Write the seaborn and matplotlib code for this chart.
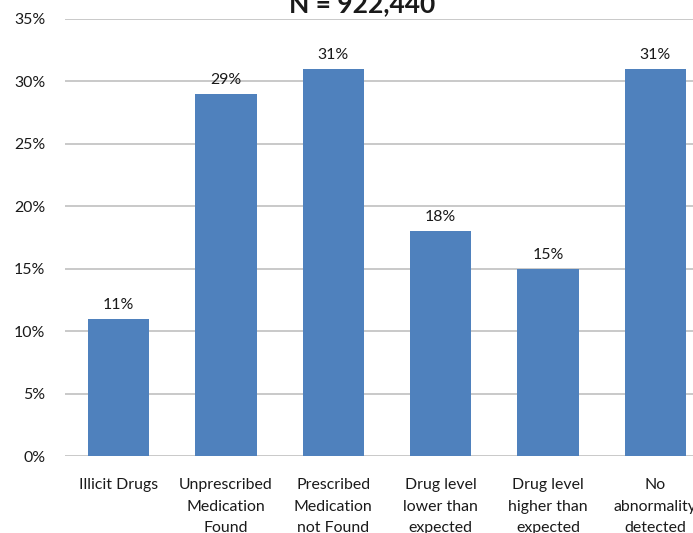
import matplotlib
matplotlib.use("Agg")
import matplotlib.pyplot as plt
import seaborn as sns
import pandas as pd

categories = [
    "Illicit Drugs",
    "Unprescribed\nMedication\nFound",
    "Prescribed\nMedication\nnot Found",
    "Drug level\nlower than\nexpected",
    "Drug level\nhigher than\nexpected",
    "No\nabnormality\ndetected",
]
percentages = [11, 29, 31, 18, 15, 31]
y_ticks = [0, 5, 10, 15, 20, 25, 30, 35]
title = "N = 922,440"

sns.set_theme(style="white")
plt.rcParams["font.family"] = ["Lato", "DejaVu Sans"]

W, H = 693, 533
fig = plt.figure(figsize=(W / 100, H / 100), dpi=100)
ax = fig.add_axes([65 / W, (H - 456) / H, (709 - 65) / W, 437 / H])

df = pd.DataFrame({"category": categories, "pct": percentages})
sns.barplot(data=df, x="category", y="pct", color="#4F81BD", saturation=1,
            width=0.57, linewidth=0, ax=ax, zorder=3)

ax.set_xlim(-0.5, len(categories) - 0.5)
ax.set_ylim(0, 35)
ax.set_yticks(y_ticks)
ax.set_yticklabels([f"{t}%" for t in y_ticks])
ax.grid(axis="y", color="#c0c0c0", linewidth=1.2, zorder=0)
ax.grid(axis="x", visible=False)
for s in ax.spines.values():
    s.set_visible(False)
ax.tick_params(axis="y", length=0, pad=14, labelsize=11.4, labelcolor="#1a1a1a")
ax.tick_params(axis="x", length=0, pad=16, labelsize=11.4, labelcolor="#1a1a1a")
for lbl in ax.get_xticklabels():
    lbl.set_linespacing(1.68)
ax.set_xlabel("")
ax.set_ylabel("")

for i, v in enumerate(percentages):
    ax.annotate(f"{v}%", (i, v), xytext=(0, 5), textcoords="offset points",
                ha="center", va="bottom", fontsize=11.4, color="#1a1a1a")

fig.text(362 / W, 1 - 12 / H, title, ha="center", va="baseline",
         fontsize=19, fontweight="bold", color="#1a1a1a")

fig.savefig("out.png", dpi=100)
